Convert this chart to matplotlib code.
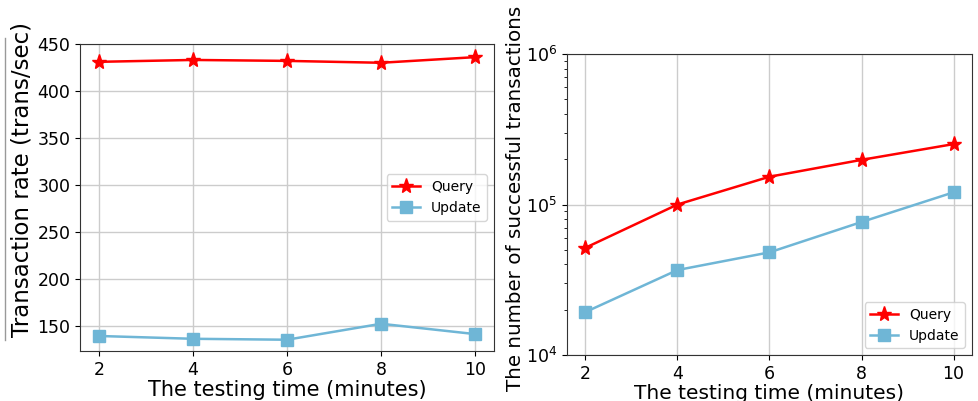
import matplotlib.pyplot as plt
from matplotlib.lines import Line2D

# Data
minutes = [2, 4, 6, 8, 10]
rate_query = [431, 433, 432, 430, 436]
rate_update = [139, 136, 135, 152, 141]
count_query = [51600, 100000, 153000, 198000, 252000]
count_update = [19300, 36700, 48100, 76500, 120500]

red = '#ff0000'
blue = '#6fb6d6'

fig = plt.figure(figsize=(9.79, 4.01), dpi=100)
ax1 = fig.add_axes([0.0817, 0.1247, 0.4229, 0.7656])
ax2 = fig.add_axes([0.5792, 0.1147, 0.4136, 0.7506])

# left: transaction rate
ax1.plot(minutes, rate_query, '-', marker='*', color=red, markersize=11, linewidth=1.8, label='Query')
ax1.plot(minutes, rate_update, '-', marker='s', color=blue, markersize=8, linewidth=1.8, label='Update')
ax1.set_xlim(1.6, 10.4)
ax1.set_ylim(123, 450)
ax1.set_xticks(minutes)
ax1.set_yticks([150, 200, 250, 300, 350, 400, 450])
ax1.set_xlabel('The testing time (minutes)', fontsize=15, labelpad=1)
ax1.set_ylabel('Transaction rate (trans/sec)', fontsize=16.5)
ax1.yaxis.set_label_coords(-0.112, 0.56)
ax1.legend(loc='center right', fontsize=10)

# right: number of successful transactions (log)
ax2.plot(minutes, count_query, '-', marker='*', color=red, markersize=11, linewidth=1.8, label='Query')
ax2.plot(minutes, count_update, '-', marker='s', color=blue, markersize=8, linewidth=1.8, label='Update')
ax2.set_yscale('log')
ax2.set_xlim(1.6, 10.4)
ax2.set_ylim(1e4, 1e6)
ax2.set_xticks(minutes)
ax2.set_xlabel('The testing time (minutes)', fontsize=14.5, labelpad=1)
ax2.set_ylabel('The number of successful transactions', fontsize=14.3)
ax2.yaxis.set_label_coords(-0.104, 0.522)
ax2.legend(loc='lower right', fontsize=10)

for ax in (ax1, ax2):
    ax.tick_params(labelsize=12.5)
    ax.grid(True, color='#cccccc', linewidth=1)
    ax.set_axisbelow(True)
    for s in ax.spines.values():
        s.set_color('#333333')

# thin gray edge left over at the far left of the image
fig.add_artist(Line2D([0.005, 0.005], [1 - 38 / 401, 1 - 340 / 401], color='#999999', linewidth=1))

fig.savefig('out.png', dpi=100)
